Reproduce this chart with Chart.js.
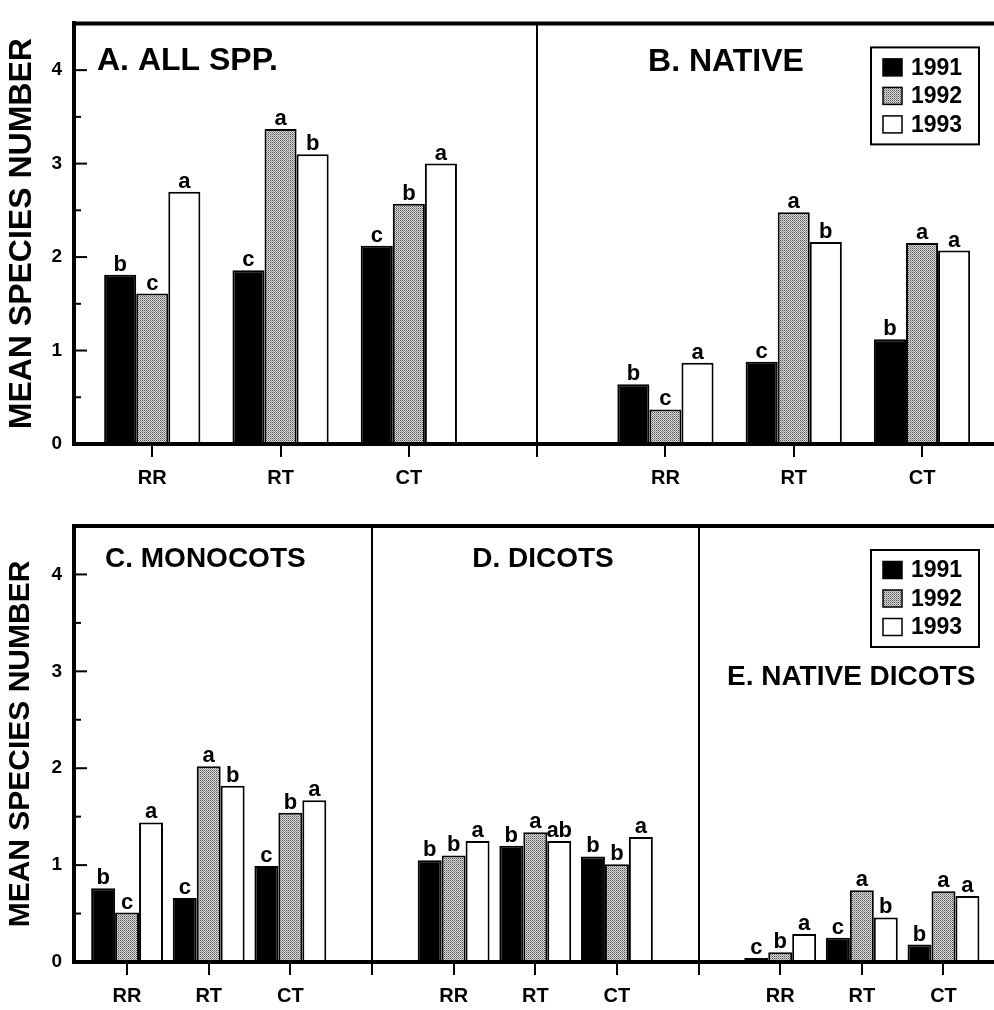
<!DOCTYPE html>
<html><head><meta charset="utf-8">
<script src="https://cdn.jsdelivr.net/npm/chart.js@4.4.1/dist/chart.umd.min.js"></script>
<style>
html,body{margin:0;padding:0;background:#fff;overflow:hidden;width:994px;height:1010px;}
canvas{display:block;}
</style></head><body>
<canvas id="topChart" width="1010" height="500"></canvas>
<canvas id="bottomChart" width="1010" height="510"></canvas>
<script>
// ---------- data ----------
const years = ['1991', '1992', '1993'];
const treatments = ['RR', 'RT', 'CT'];
const panelTitles = ['A. ALL SPP.', 'B. NATIVE', 'C. MONOCOTS', 'D. DICOTS', 'E. NATIVE DICOTS'];
const yTitle = 'MEAN SPECIES NUMBER';
const yTickValues = [0, 1, 2, 3, 4];
const yTickMarks = [0.5, 1, 1.5, 2, 2.5, 3, 3.5, 4];

const A_1991 = [1.81, 1.86, 2.12], A_1992 = [1.61, 3.37, 2.57], A_1993 = [2.70, 3.10, 3.00];
const B_1991 = [0.64, 0.88, 1.12], B_1992 = [0.37, 2.48, 2.15], B_1993 = [0.87, 2.16, 2.07];
const C_1991 = [0.76, 0.66, 0.99], C_1992 = [0.51, 2.02, 1.54], C_1993 = [1.44, 1.82, 1.67];
const D_1991 = [1.05, 1.20, 1.09], D_1992 = [1.10, 1.34, 1.01], D_1993 = [1.25, 1.25, 1.29];
const E_1991 = [0.04, 0.25, 0.18], E_1992 = [0.10, 0.74, 0.73], E_1993 = [0.29, 0.46, 0.68];

const A_let1991 = ['b', 'c', 'c'], A_let1992 = ['c', 'a', 'b'], A_let1993 = ['a', 'b', 'a'];
const B_let1991 = ['b', 'c', 'b'], B_let1992 = ['c', 'a', 'a'], B_let1993 = ['a', 'b', 'a'];
const C_let1991 = ['b', 'c', 'c'], C_let1992 = ['c', 'a', 'b'], C_let1993 = ['a', 'b', 'a'];
const D_let1991 = ['b', 'b', 'b'], D_let1992 = ['b', 'a', 'b'], D_let1993 = ['a', 'ab', 'a'];
const E_let1991 = ['c', 'c', 'b'], E_let1992 = ['b', 'a', 'a'], E_let1993 = ['a', 'b', 'a'];

// ---------- helpers ----------
Chart.defaults.font.family = '"Liberation Sans", Arial, Helvetica, sans-serif';
Chart.defaults.color = '#000';

function makeStipple() {
  const c = document.createElement('canvas'); c.width = 2; c.height = 2;
  const g = c.getContext('2d');
  g.fillStyle = '#d8d8d8'; g.fillRect(0, 0, 2, 2);
  g.fillStyle = '#555555'; g.fillRect(0, 0, 1, 1);
  g.fillStyle = '#959595'; g.fillRect(1, 1, 1, 1);
  return g.createPattern(c, 'repeat');
}
const stipple = makeStipple();
const fills = ['#000', stipple, '#fff'];

// build tick positions/labels: each panel = 3 treatments + separator slot
function buildAxis(nPanels) {
  const pos = [], labels = [], seps = [];
  for (let p = 0; p < nPanels; p++) {
    treatments.forEach((t, i) => { pos.push(p * 4 + i + 1); labels.push(t); });
    if (p < nPanels - 1) { pos.push(p * 4 + 4); labels.push(''); seps.push(p * 4 + 4); }
  }
  return { pos, labels, seps };
}

function buildDatasets(panelsByYear, lettersByYear) {
  return years.map((yr, k) => {
    const data = [], letters = [];
    panelsByYear[k].forEach((vals, p) => {
      vals.forEach((v, i) => { data.push({ x: p * 4 + i + 1, y: v }); letters.push(lettersByYear[k][p][i]); });
    });
    return { label: yr, data, letters, backgroundColor: fills[k], borderColor: '#000', borderWidth: 2, borderSkipped: 'bottom' };
  });
}

const decoPlugin = {
  id: 'deco',
  afterDatasetsDraw(chart, args, opts) {
    const ctx = chart.ctx, ca = chart.chartArea, ys = chart.scales.y;
    ctx.save();
    // significance letters
    ctx.fillStyle = '#000';
    ctx.font = 'bold 22px "Liberation Sans", Arial, sans-serif';
    ctx.textAlign = 'center'; ctx.textBaseline = 'alphabetic';
    chart.data.datasets.forEach((ds, di) => {
      chart.getDatasetMeta(di).data.forEach((el, i) => ctx.fillText(ds.letters[i], el.x, el.y - 4));
    });
    // frame
    ctx.strokeStyle = '#000'; ctx.lineWidth = 4;
    ctx.beginPath();
    ctx.moveTo(ca.left - 2, ca.top); ctx.lineTo(ca.right, ca.top); ctx.lineTo(ca.right, ca.bottom);
    ctx.lineTo(ca.left - 2, ca.bottom);
    ctx.moveTo(ca.left, ca.top - 2); ctx.lineTo(ca.left, ca.bottom + 2);
    ctx.stroke();
    // inward y ticks
    ctx.lineWidth = 2;
    yTickMarks.forEach(v => {
      const y = ys.getPixelForValue(v);
      const len = Number.isInteger(v) ? 13 : 7;
      ctx.beginPath(); ctx.moveTo(ca.left, y); ctx.lineTo(ca.left + len, y); ctx.stroke();
    });
    // panel titles
    opts.titles.forEach(t => {
      ctx.font = 'bold ' + t.size + 'px "Liberation Sans", Arial, sans-serif';
      ctx.textAlign = t.align; ctx.textBaseline = 'alphabetic';
      ctx.fillText(t.text, ca.left + t.dx, ca.top + t.dy);
    });
    // legend
    const L = opts.legend;
    const bx = ca.right - L.right - L.w, by = ca.top + L.top;
    ctx.lineWidth = 2;
    ctx.fillStyle = '#fff'; ctx.fillRect(bx, by, L.w, L.h);
    ctx.strokeRect(bx, by, L.w, L.h);
    ctx.font = 'bold 23px "Liberation Sans", Arial, sans-serif';
    ctx.textAlign = 'left'; ctx.textBaseline = 'middle';
    chart.data.datasets.forEach((ds, i) => {
      const cy = by + 20 + i * 28.5;
      ctx.fillStyle = ds.backgroundColor;
      ctx.fillRect(bx + 12, cy - 8.5, 19, 17);
      ctx.lineWidth = 1.5; ctx.strokeRect(bx + 12, cy - 8.5, 19, 17);
      ctx.fillStyle = '#000';
      ctx.fillText(ds.label, bx + 40, cy + 1);
    });
    ctx.restore();
  }
};

function makeChart(id, nPanels, datasets, cfg) {
  const ax = buildAxis(nPanels);
  const sepSet = new Set(ax.seps);
  return new Chart(document.getElementById(id), {
    type: 'bar',
    data: { datasets },
    plugins: [decoPlugin],
    options: {
      responsive: false, animation: false,
      categoryPercentage: cfg.catPct, barPercentage: 1,
      layout: { padding: { top: cfg.padTop, right: 11, left: 0, bottom: 0 } },
      plugins: {
        legend: { display: false }, tooltip: { enabled: false },
        deco: { titles: cfg.titles, legend: { right: 20, top: 24, w: 108, h: 97 } }
      },
      scales: {
        x: {
          type: 'linear', min: cfg.xMin, max: cfg.xMax, offset: false,
          afterBuildTicks: s => { s.ticks = ax.pos.map(v => ({ value: v })); },
          afterFit: s => { s.height = cfg.xHeight; },
          ticks: { callback: (v, i) => ax.labels[i], autoSkip: false, maxRotation: 0, minRotation: 0,
                   font: { size: 20, weight: 'bold' }, color: '#000', padding: cfg.xPad },
          grid: { offset: false, drawOnChartArea: true, lineWidth: 2, tickLength: 13, tickColor: '#000',
                  color: c => (c.tick && sepSet.has(c.tick.value)) ? '#000' : 'rgba(0,0,0,0)' },
          border: { display: true, color: '#000', width: 4 }
        },
        y: {
          min: 0, max: 4.5,
          afterBuildTicks: s => { s.ticks = yTickValues.map(v => ({ value: v })); },
          afterFit: s => { s.width = 74; },
          ticks: { font: { size: 19, weight: 'bold' }, color: '#000', padding: 12 },
          grid: { display: false, drawTicks: false },
          border: { display: true, color: '#000', width: 4 },
          title: { display: true, text: yTitle, color: '#000', font: { size: cfg.ySize, weight: 'bold' }, padding: { top: 3, bottom: 0 } }
        }
      }
    }
  });
}

makeChart('topChart', 2,
  buildDatasets([[A_1991, B_1991], [A_1992, B_1992], [A_1993, B_1993]],
                [[A_let1991, B_let1991], [A_let1992, B_let1992], [A_let1993, B_let1993]]),
  { catPct: 0.75, padTop: 10, xMin: 0.39, xMax: 7.6, xHeight: 56, xPad: 9, ySize: 32,
    titles: [ { text: panelTitles[0], dx: 23, dy: 47, align: 'left', size: 32 },
              { text: panelTitles[1], dx: 652, dy: 48, align: 'center', size: 32 } ] });

makeChart('bottomChart', 3,
  buildDatasets([[C_1991, D_1991, E_1991], [C_1992, D_1992, E_1992], [C_1993, D_1993, E_1993]],
                [[C_let1991, D_let1991, E_let1991], [C_let1992, D_let1992, E_let1992], [C_let1993, D_let1993, E_let1993]]),
  { catPct: 0.88, padTop: 26, xMin: 0.35, xMax: 11.68, xHeight: 48, xPad: 9, ySize: 30,
    titles: [ { text: panelTitles[2], dx: 31, dy: 41, align: 'left', size: 28 },
              { text: panelTitles[3], dx: 469, dy: 41, align: 'center', size: 28 },
              { text: panelTitles[4], dx: 653, dy: 159, align: 'left', size: 28 } ] });
</script></body></html>
